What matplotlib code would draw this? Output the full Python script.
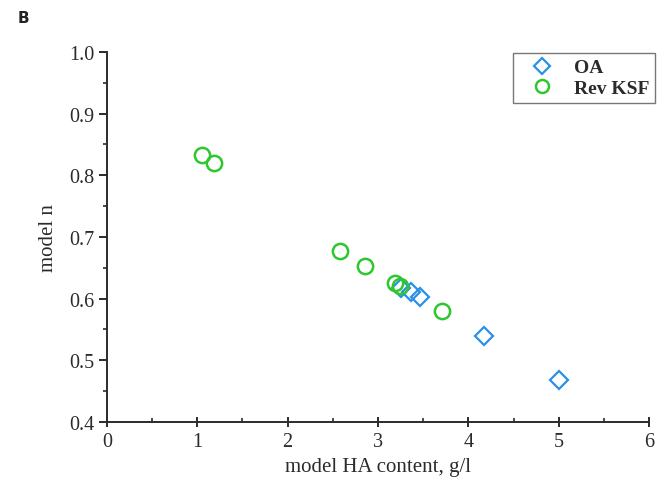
import matplotlib
matplotlib.use('Agg')
import matplotlib.pyplot as plt
from matplotlib.ticker import MultipleLocator, FormatStrFormatter

# model HA content (g/l) vs model n
oa_x = [3.25, 3.36, 3.46, 4.17, 5.00]
oa_y = [0.617, 0.611, 0.602, 0.539, 0.467]

ksf_x = [1.05, 1.19, 2.58, 2.86, 3.19, 3.24, 3.71]
ksf_y = [0.832, 0.819, 0.677, 0.653, 0.625, 0.621, 0.580]

plt.rcParams['font.family'] = ['Liberation Serif', 'DejaVu Serif']

ink = '#2b2b2b'

fig = plt.figure(figsize=(6.68, 4.81), dpi=100)
ax = fig.add_axes([0.160, 0.121, 0.812, 0.769])

ax.plot(oa_x, oa_y, linestyle='none', marker='D', markersize=9.5,
        markerfacecolor='none', markeredgecolor='#2a8fe8',
        markeredgewidth=1.6, label='OA')
ax.plot(ksf_x, ksf_y, linestyle='none', marker='o', markersize=11,
        markerfacecolor='none', markeredgecolor='#2ec82e',
        markeredgewidth=1.8, label='Rev KSF')

ax.set_xlim(0, 6)
ax.set_ylim(0.4, 1.0)
ax.xaxis.set_major_locator(MultipleLocator(1))
ax.xaxis.set_minor_locator(MultipleLocator(0.5))
ax.yaxis.set_major_locator(MultipleLocator(0.1))
ax.yaxis.set_minor_locator(MultipleLocator(0.05))
ax.yaxis.set_major_formatter(FormatStrFormatter('%.1f'))

for side in ('top', 'right'):
    ax.spines[side].set_visible(False)
for side in ('left', 'bottom'):
    ax.spines[side].set_linewidth(1.4)
    ax.spines[side].set_color(ink)

ax.tick_params(axis='x', which='major', direction='inout', length=7, width=1.4,
               labelsize=14.5, colors=ink, pad=4)
ax.tick_params(axis='x', which='minor', direction='in', length=3, width=1.2,
               colors=ink)
ax.tick_params(axis='y', which='major', direction='out', length=6, width=1.4,
               labelsize=14.5, colors=ink, pad=3)
ax.tick_params(axis='y', which='minor', direction='out', length=3, width=1.2,
               colors=ink)

ax.set_xlabel('model HA content, g/l', fontsize=15, color=ink, labelpad=4)
ax.set_ylabel('model n', fontsize=15, color=ink, labelpad=8)

leg = ax.legend(loc='upper right', bbox_to_anchor=(1.01, 0.997),
                prop={'size': 14, 'weight': 'bold'},
                frameon=True, fancybox=False, edgecolor='#555555',
                handletextpad=0.4, borderpad=0.3, labelspacing=0.15,
                handlelength=2.4, borderaxespad=0.0, markerscale=0.85)
leg.get_frame().set_linewidth(1.0)
for t in leg.get_texts():
    t.set_color(ink)

fig.text(0.026, 0.953, 'B', fontsize=11, fontweight='bold',
         family='DejaVu Sans', color='#222222')

fig.savefig('out.png', dpi=100)
